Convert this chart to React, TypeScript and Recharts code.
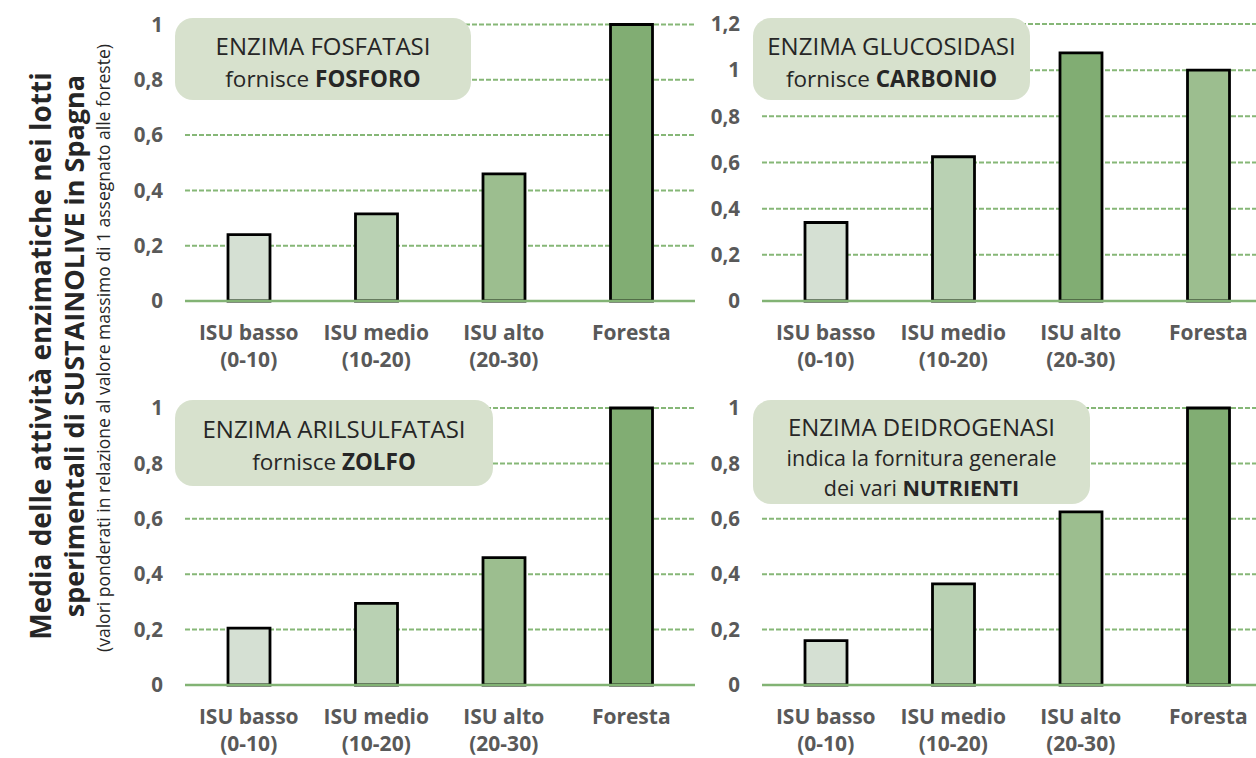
import { BarChart, Bar, XAxis, YAxis, CartesianGrid, Cell } from 'recharts'

const CATEGORY_NAMES = ['ISU basso', 'ISU medio', 'ISU alto', 'Foresta']
const CATEGORY_RANGES = ['(0-10)', '(10-20)', '(20-30)', '']

const FOSFATASI = [0.24, 0.315, 0.46, 1]
const GLUCOSIDASI = [0.34, 0.625, 1.075, 1]
const ARILSULFATASI = [0.205, 0.295, 0.46, 1]
const DEIDROGENASI = [0.16, 0.365, 0.625, 1]

const TICKS_1 = [0, 0.2, 0.4, 0.6, 0.8, 1]
const TICKS_12 = [0, 0.2, 0.4, 0.6, 0.8, 1, 1.2]

// lightest -> darkest, assigned by rank of the value in each panel
const FILLS = ['#d5e0d3', '#b9d1b3', '#9cbe8f', '#81ad73']

const FONT = '"Open Sans", "Noto Sans", sans-serif'
const TICK_GRAY = '#595959'

const fmt = (v: number) => String(v).replace('.', ',')

const XTick = (props: any) => {
  const { x, y, payload } = props
  const i = CATEGORY_NAMES.indexOf(payload.value)
  return (
    <text x={x} y={y} textAnchor="middle" fill={TICK_GRAY} fontSize={21} fontWeight={700} fontFamily={FONT}>
      <tspan x={x} dy={37}>{payload.value}</tspan>
      {CATEGORY_RANGES[i] && <tspan x={x} dy={27}>{CATEGORY_RANGES[i]}</tspan>}
    </text>
  )
}

interface PanelProps {
  values: number[]
  ticks: number[]
  top: number
  plotLeft: number
  plotTop: number
  plotBottom: number
  height: number
  axisWidth: number
}

function Panel({ values, ticks, top, plotLeft, plotTop, plotBottom, height, axisWidth }: PanelProps) {
  const data = CATEGORY_NAMES.map((name, i) => ({ name, value: values[i] }))
  const sorted = [...values].sort((a, b) => a - b)
  const plotWidth = 510
  const width = axisWidth + plotWidth + 4
  const chartLeft = plotLeft - axisWidth
  const marginTop = plotTop - top
  const xHeight = height - (plotBottom - top)

  return (
    <div style={{ position: 'absolute', left: chartLeft, top }}>
      <BarChart
        width={width}
        height={height}
        data={data}
        margin={{ top: marginTop, right: 4, left: 0, bottom: 0 }}
        barSize={42}
      >
        <CartesianGrid vertical={false} stroke="#86b777" strokeDasharray="5 2" strokeWidth={2} />
        <XAxis
          dataKey="name"
          tick={<XTick />}
          tickLine={false}
          tickSize={0}
          height={xHeight}
          axisLine={{ stroke: '#82b374', strokeWidth: 2.5 }}
          interval={0}
        />
        <YAxis
          width={axisWidth}
          domain={[0, ticks[ticks.length - 1]]}
          ticks={ticks}
          tickFormatter={fmt}
          axisLine={false}
          tickLine={false}
          tickSize={0}
          tickMargin={22}
          tick={{ fill: TICK_GRAY, fontSize: 20.5, fontWeight: 700, fontFamily: FONT }}
        />
        <Bar dataKey="value" stroke="#000" strokeWidth={2.8} isAnimationActive={false}>
          {values.map((v, i) => (
            <Cell key={i} fill={FILLS[sorted.indexOf(v)]} />
          ))}
        </Bar>
      </BarChart>
    </div>
  )
}

const boxStyle = (left: number, top: number, width: number, height: number, pad: number, lh: number) => ({
  position: 'absolute' as const,
  left,
  top,
  width,
  height,
  boxSizing: 'border-box' as const,
  paddingTop: pad,
  background: '#d7e1cd',
  borderRadius: 18,
  textAlign: 'center' as const,
  fontFamily: FONT,
  fontSize: 22.5,
  lineHeight: `${lh}px`,
  color: '#262626',
  whiteSpace: 'nowrap' as const,
})

const head = { fontSize: 24 }

export default function App() {
  return (
    <div
      style={{
        position: 'absolute',
        left: 0,
        top: 0,
        width: 1256,
        height: 758,
        overflow: 'hidden',
        background: '#fff',
        fontFamily: FONT,
      }}
    >
      <Panel values={FOSFATASI} ticks={TICKS_1} top={0} plotLeft={185} plotTop={24.5} plotBottom={301} height={380} axisWidth={85} />
      <Panel values={GLUCOSIDASI} ticks={TICKS_12} top={0} plotLeft={762} plotTop={24} plotBottom={301} height={380} axisWidth={85} />
      <Panel values={ARILSULFATASI} ticks={TICKS_1} top={380} plotLeft={185} plotTop={408} plotBottom={685} height={378} axisWidth={85} />
      <Panel values={DEIDROGENASI} ticks={TICKS_1} top={380} plotLeft={762} plotTop={408} plotBottom={685} height={378} axisWidth={85} />

      <div style={boxStyle(175, 18, 296, 82, 12, 32)}>
        <span style={head}>ENZIMA FOSFATASI</span>
        <br />
        fornisce <b>FOSFORO</b>
      </div>
      <div style={boxStyle(753, 18, 277, 82, 12, 32)}>
        <span style={head}>ENZIMA GLUCOSIDASI</span>
        <br />
        fornisce <b>CARBONIO</b>
      </div>
      <div style={boxStyle(175, 400, 318, 86, 13, 32)}>
        <span style={head}>ENZIMA ARILSULFATASI</span>
        <br />
        fornisce <b>ZOLFO</b>
      </div>
      <div style={{ ...boxStyle(753, 400, 337, 104, 12, 30), fontSize: 21.5 }}>
        <span style={head}>ENZIMA DEIDROGENASI</span>
        <br />
        indica la fornitura generale
        <br />
        dei vari <b>NUTRIENTI</b>
      </div>

      <svg width={130} height={758} style={{ position: 'absolute', left: 0, top: 0 }}>
        <text
          transform="translate(40,356) rotate(-90)"
          textAnchor="middle"
          dominantBaseline="central"
          fontFamily={FONT}
          fontSize={28}
          fontWeight={700}
          fill="#262626"
        >
          Media delle attività enzimatiche nei lotti
        </text>
        <text
          transform="translate(73,346) rotate(-90)"
          textAnchor="middle"
          dominantBaseline="central"
          fontFamily={FONT}
          fontSize={27}
          fontWeight={700}
          fill="#262626"
        >
          sperimentali di SUSTAINOLIVE in Spagna
        </text>
        <text
          transform="translate(103,348) rotate(-90)"
          textAnchor="middle"
          dominantBaseline="central"
          fontFamily={FONT}
          fontSize={17.5}
          fill="#262626"
        >
          (valori ponderati in relazione al valore massimo di 1 assegnato alle foreste)
        </text>
      </svg>
    </div>
  )
}
